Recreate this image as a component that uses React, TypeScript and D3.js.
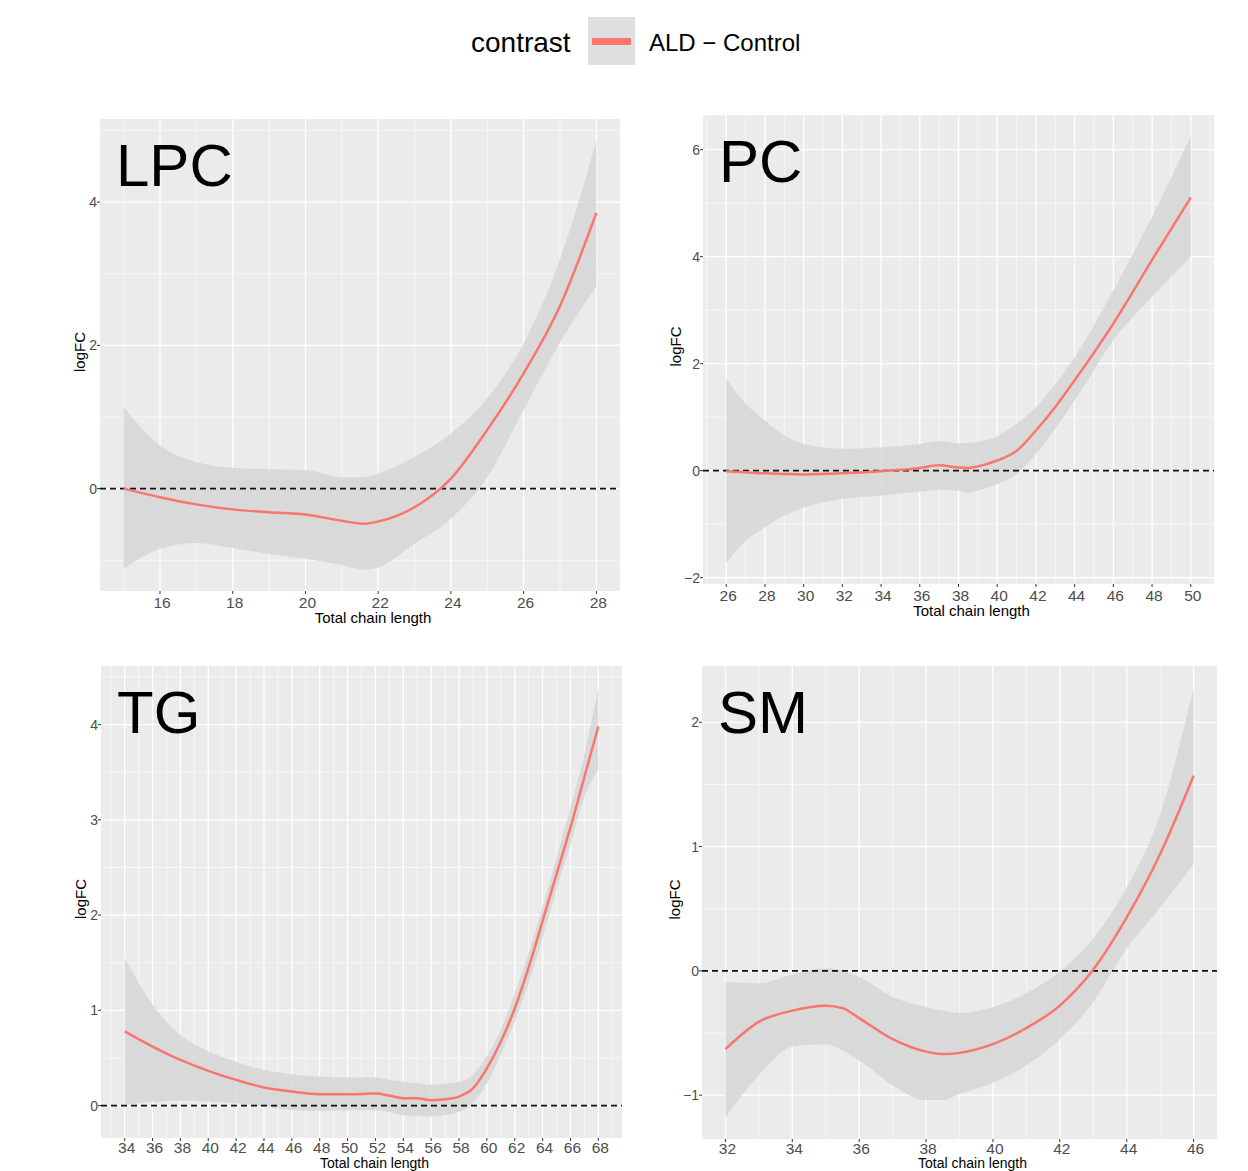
import React from "react";
import * as d3 from "d3";

// ---- data (loess fit with 95% band) ----
const lpcX = [15, 16, 17, 18, 19, 20, 21, 21.6, 22, 23, 24, 25, 26, 27, 28];
const lpcFit = [0, -0.12, -0.22, -0.29, -0.33, -0.36, -0.45, -0.49, -0.46, -0.26, 0.14, 0.82, 1.61, 2.55, 3.85];
const lpcLower = [-1.12, -0.84, -0.76, -0.83, -0.91, -0.98, -1.07, -1.13, -1.1, -0.77, -0.42, 0.16, 1.1, 2.04, 2.82];
const lpcUpper = [1.14, 0.6, 0.37, 0.29, 0.27, 0.26, 0.16, 0.16, 0.21, 0.44, 0.77, 1.26, 2.03, 3.2, 4.86];

const pcX = [26, 27, 28, 29, 30, 32, 34, 36, 37, 38, 38.5, 39, 40, 41, 42, 43, 44, 46, 48, 50];
const pcFit = [-0.01, -0.03, -0.05, -0.06, -0.07, -0.05, -0.01, 0.05, 0.1, 0.06, 0.05, 0.08, 0.19, 0.37, 0.75, 1.19, 1.69, 2.75, 3.94, 5.11];
const pcLower = [-1.72, -1.31, -1.06, -0.84, -0.69, -0.53, -0.47, -0.39, -0.36, -0.375, -0.41, -0.375, -0.25, -0.06, 0.31, 0.78, 1.31, 2.44, 3.25, 4.0];
const pcUpper = [1.72, 1.25, 0.94, 0.66, 0.5, 0.41, 0.44, 0.5, 0.56, 0.51, 0.52, 0.54, 0.64, 0.875, 1.19, 1.62, 2.12, 3.37, 4.75, 6.25];

const tgX = [34, 36, 38, 40, 42, 44, 46, 48, 50, 52, 53, 54, 55, 56, 57, 58, 59, 60, 61, 62, 63, 64, 65, 66, 67, 68];
const tgFit = [0.78, 0.62, 0.48, 0.365, 0.27, 0.19, 0.147, 0.12, 0.12, 0.126, 0.105, 0.077, 0.077, 0.056, 0.067, 0.095, 0.18, 0.39, 0.67, 1.02, 1.45, 1.94, 2.43, 2.92, 3.45, 3.98];
const tgLower = [0.005, 0.04, 0.05, 0.04, 0.025, -0.01, -0.045, -0.055, -0.05, -0.05, -0.07, -0.1, -0.11, -0.115, -0.1, -0.065, 0.025, 0.235, 0.535, 0.885, 1.29, 1.76, 2.27, 2.74, 3.24, 3.53];
const tgUpper = [1.55, 1.06, 0.74, 0.57, 0.46, 0.375, 0.33, 0.305, 0.295, 0.295, 0.27, 0.25, 0.235, 0.22, 0.23, 0.25, 0.32, 0.52, 0.8, 1.18, 1.6, 2.09, 2.6, 3.13, 3.69, 4.39];

const smX = [32, 33, 34, 35, 35.5, 36, 37, 38, 38.5, 39, 40, 41, 42, 43, 44, 45, 46];
const smFit = [-0.63, -0.41, -0.32, -0.28, -0.3, -0.38, -0.55, -0.65, -0.67, -0.66, -0.59, -0.46, -0.28, 0.01, 0.43, 0.94, 1.57];
const smLower = [-1.18, -0.84, -0.61, -0.59, -0.64, -0.72, -0.92, -1.04, -1.04, -0.99, -0.9, -0.76, -0.55, -0.25, 0.18, 0.51, 0.86];
const smUpper = [-0.09, -0.1, -0.03, 0.02, 0.0, -0.05, -0.21, -0.29, -0.32, -0.34, -0.29, -0.18, -0.005, 0.26, 0.67, 1.26, 2.28];

const lpcXTicks = [16, 18, 20, 22, 24, 26, 28];
const lpcYTicks = [0, 2, 4];
const pcXTicks = [26, 28, 30, 32, 34, 36, 38, 40, 42, 44, 46, 48, 50];
const pcYTicks = [-2, 0, 2, 4, 6];
const tgXTicks = [34, 36, 38, 40, 42, 44, 46, 48, 50, 52, 54, 56, 58, 60, 62, 64, 66, 68];
const tgYTicks = [0, 1, 2, 3, 4];
const smXTicks = [32, 34, 36, 38, 40, 42, 44, 46];
const smYTicks = [-1, 0, 1, 2];

const legendTitle = "contrast";
const legendLabel = "ALD \u2212 Control";

const panels = [
  { name: "LPC", x: lpcX, fit: lpcFit, lo: lpcLower, hi: lpcUpper, xt: lpcXTicks, yt: lpcYTicks, box: [100, 119, 620, 591] },
  { name: "PC", x: pcX, fit: pcFit, lo: pcLower, hi: pcUpper, xt: pcXTicks, yt: pcYTicks, box: [703, 115, 1214, 584] },
  { name: "TG", x: tgX, fit: tgFit, lo: tgLower, hi: tgUpper, xt: tgXTicks, yt: tgYTicks, box: [101, 666, 622, 1138] },
  { name: "SM", x: smX, fit: smFit, lo: smLower, hi: smUpper, xt: smXTicks, yt: smYTicks, box: [702, 666, 1217, 1139] },
];

const RED = "#F8766D";
const FONT = "'Liberation Sans', Arial, sans-serif";
const PAGE_H = 1171;

// ggplot-style minor breaks: midpoints, extended one step beyond the majors
function minors(ticks: number[], dom: number[]) {
  const step = ticks[1] - ticks[0];
  const out: number[] = [];
  for (let v = ticks[0] - step / 2; v <= ticks[ticks.length - 1] + step; v += step) {
    if (v >= dom[0] && v <= dom[1]) out.push(v);
  }
  return out;
}

function expand(ext: [number, number]) {
  const pad = (ext[1] - ext[0]) * 0.05;
  return [ext[0] - pad, ext[1] + pad];
}

const fmt = (v: number) => (v < 0 ? "\u2212" + Math.abs(v) : String(v));

const Panel = ({ p }: { p: (typeof panels)[number] }) => {
  const [l, t, r, b] = p.box;
  const xd = expand(d3.extent(p.x) as [number, number]);
  const yd = expand([d3.min(p.lo)!, d3.max(p.hi)!]);
  const x = d3.scaleLinear().domain(xd).range([l, r]);
  const y = d3.scaleLinear().domain(yd).range([b, t]);

  const rows = p.x.map((v, i) => ({ x: v, f: p.fit[i], lo: p.lo[i], hi: p.hi[i] }));
  const curve = d3.curveMonotoneX;
  const area = d3
    .area<(typeof rows)[number]>()
    .x((d) => x(d.x))
    .y0((d) => y(d.lo))
    .y1((d) => y(d.hi))
    .curve(curve);
  const line = d3
    .line<(typeof rows)[number]>()
    .x((d) => x(d.x))
    .y((d) => y(d.f))
    .curve(curve);

  const labW = d3.max(p.yt, (v) => fmt(v).length * 7.6)!;
  const yTitleX = l - 4 - labW - 3;
  const cy = (t + b) / 2 - 3;

  // bottom row sits against the page edge: squeeze its axis text a little
  const tight = b + 34 > PAGE_H;
  const tickBase = tight ? b + 15 : b + 17;
  const titleBase = tight ? PAGE_H - 3 : b + 32;

  return (
    <g>
      <rect x={l} y={t} width={r - l} height={b - t} fill="#EBEBEB" />
      {minors(p.xt, xd).map((v) => (
        <line key={"mx" + v} x1={x(v)} x2={x(v)} y1={t} y2={b} stroke="#fff" strokeWidth={0.6} />
      ))}
      {minors(p.yt, yd).map((v) => (
        <line key={"my" + v} x1={l} x2={r} y1={y(v)} y2={y(v)} stroke="#fff" strokeWidth={0.6} />
      ))}
      {p.xt.map((v) => (
        <line key={"gx" + v} x1={x(v)} x2={x(v)} y1={t} y2={b} stroke="#fff" strokeWidth={1.3} />
      ))}
      {p.yt.map((v) => (
        <line key={"gy" + v} x1={l} x2={r} y1={y(v)} y2={y(v)} stroke="#fff" strokeWidth={1.3} />
      ))}
      <path d={area(rows)!} fill="#D6D6D6" opacity={0.85} />
      <line x1={l} x2={r} y1={y(0)} y2={y(0)} stroke="#111" strokeWidth={1.8} strokeDasharray="6 4" />
      <path d={line(rows)!} fill="none" stroke={RED} strokeWidth={2.5} />

      {p.xt.map((v) => (
        <g key={"tx" + v}>
          <line x1={x(v)} x2={x(v)} y1={b} y2={b + 3} stroke="#333" strokeWidth={1} />
          <text x={x(v) + 2} y={tickBase} textAnchor="middle" fontSize={15.5} fill="#4D4D4D" fontFamily={FONT}>
            {fmt(v)}
          </text>
        </g>
      ))}
      {p.yt.map((v) => (
        <g key={"ty" + v}>
          <line x1={l - 3} x2={l} y1={y(v)} y2={y(v)} stroke="#333" strokeWidth={1} />
          <text x={l - 3} y={y(v)} dy="0.36em" textAnchor="end" fontSize={14} fill="#4D4D4D" fontFamily={FONT}>
            {fmt(v)}
          </text>
        </g>
      ))}
      <text
        transform={`translate(${yTitleX},${cy}) rotate(-90)`}
        textAnchor="middle"
        fontSize={15}
        fill="#000"
        fontFamily={FONT}
      >
        logFC
      </text>
      <text
        x={(l + r) / 2 + 13}
        y={titleBase}
        textAnchor="middle"
        fontSize={tight ? 14 : 15}
        fill="#000"
        fontFamily={FONT}
      >
        Total chain length
      </text>
      <text x={l + 16} y={t + 67} fontSize={60} fill="#000" fontFamily={FONT}>
        {p.name}
      </text>
    </g>
  );
};

export default function App() {
  return (
    <svg
      width={1248}
      height={PAGE_H}
      style={{ position: "absolute", left: 0, top: 0, background: "#fff" }}
    >
      <rect width={1248} height={PAGE_H} fill="#fff" />
      <text x={471} y={52} fontSize={28} fill="#000" fontFamily={FONT}>
        {legendTitle}
      </text>
      <rect x={588} y={17} width={47} height={48} fill="#DFDFDF" />
      <line x1={592} x2={631} y1={41.5} y2={41.5} stroke={RED} strokeWidth={7} />
      <text x={649} y={51} fontSize={24} fill="#000" fontFamily={FONT}>
        {legendLabel}
      </text>
      {panels.map((p) => (
        <Panel key={p.name} p={p} />
      ))}
    </svg>
  );
}
